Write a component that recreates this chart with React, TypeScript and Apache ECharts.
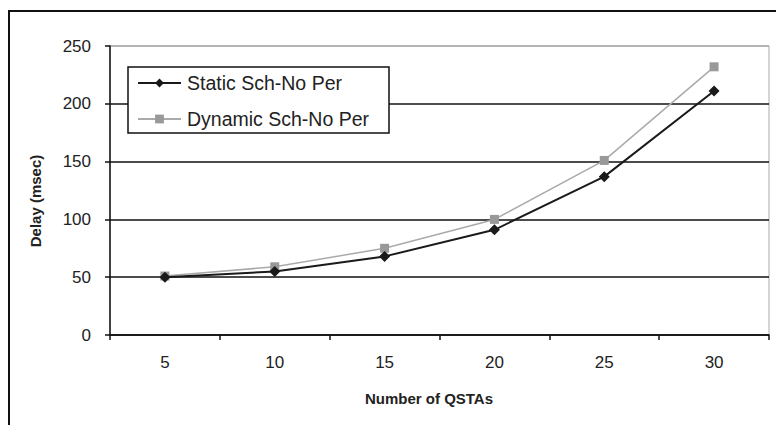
import React, { useEffect, useRef } from "react";
import * as echarts from "echarts";

const categories = ["5", "10", "15", "20", "25", "30"];
const staticSch = [50, 55, 68, 91, 137, 211];
const dynamicSch = [51, 59, 75, 100, 151, 232];
const yTicks = { min: 0, max: 250, interval: 50 };
const xTitle = "Number of QSTAs";
const yTitle = "Delay (msec)";

export default function App() {
  const ref = useRef<HTMLDivElement>(null);
  useEffect(() => {
    const chart = echarts.init(ref.current!, undefined, { renderer: "svg" });
    chart.setOption({
      animation: false,
      backgroundColor: "#fff",
      textStyle: { fontFamily: "Liberation Sans, Arial, sans-serif" },
      graphic: [
        {
          type: "rect",
          shape: { x: 9, y: 11, width: 800, height: 450 },
          style: { fill: "none", stroke: "#111", lineWidth: 2 },
          z: 0,
        },
        {
          type: "rect",
          shape: { x: 128, y: 67, width: 261, height: 66 },
          style: { fill: "#fff", stroke: "#111", lineWidth: 1.5 },
          z: 10,
        },
        {
          type: "text",
          x: 429,
          y: 398,
          style: {
            text: xTitle,
            fontSize: 15,
            fontWeight: "bold",
            fill: "#222",
            fontFamily: "Liberation Sans, Arial, sans-serif",
            align: "center",
            verticalAlign: "middle",
          },
        },
        {
          type: "text",
          x: 35,
          y: 201,
          rotation: Math.PI / 2,
          style: {
            text: yTitle,
            fontSize: 15,
            fontWeight: "bold",
            fill: "#222",
            fontFamily: "Liberation Sans, Arial, sans-serif",
            align: "center",
            verticalAlign: "middle",
          },
        },
      ],
      grid: {
        left: 110,
        right: 7,
        top: 46,
        bottom: 90,
        show: true,
        borderColor: "#aaa",
        borderWidth: 1,
      },
      legend: {
        orient: "vertical",
        left: 137,
        top: 73,
        padding: 0,
        itemGap: 16,
        itemWidth: 43,
        itemHeight: 11,
        z: 11,
        textStyle: {
          fontSize: 19.5,
          color: "#222",
          fontFamily: "Liberation Sans, Arial, sans-serif",
          padding: [0, 0, 0, 1],
        },
        data: ["Static Sch-No Per", "Dynamic Sch-No Per"],
      },
      xAxis: {
        type: "category",
        data: categories,
        boundaryGap: true,
        axisLine: { lineStyle: { color: "#111", width: 1.5 } },
        axisTick: { show: true, length: 5, lineStyle: { color: "#111", width: 1.5 } },
        axisLabel: { fontSize: 17, color: "#222", margin: 19 },
        splitLine: { show: false },
      },
      yAxis: {
        type: "value",
        min: yTicks.min,
        max: yTicks.max,
        interval: yTicks.interval,
        axisLine: { show: true, lineStyle: { color: "#111", width: 1.5 } },
        axisTick: { show: true, length: 5, lineStyle: { color: "#111", width: 1.5 } },
        axisLabel: { fontSize: 17, color: "#222", margin: 19 },
        splitLine: {
          show: true,
          lineStyle: {
            color: ["#111", "#111", "#111", "#111", "#111", "#aaa"],
            width: 1.5,
          },
        },
      },
      series: [
        {
          name: "Static Sch-No Per",
          type: "line",
          data: staticSch,
          symbol: "diamond",
          symbolSize: 11,
          itemStyle: { color: "#1a1a1a" },
          lineStyle: { color: "#1a1a1a", width: 2 },
          z: 3,
        },
        {
          name: "Dynamic Sch-No Per",
          type: "line",
          data: dynamicSch,
          symbol: "rect",
          symbolSize: 9,
          itemStyle: { color: "#999" },
          lineStyle: { color: "#aaa", width: 1.5 },
          z: 2,
        },
      ],
    });
    return () => chart.dispose();
  }, []);
  return (
    <div
      ref={ref}
      style={{ position: "fixed", left: 0, top: 0, width: 776, height: 425 }}
    />
  );
}
